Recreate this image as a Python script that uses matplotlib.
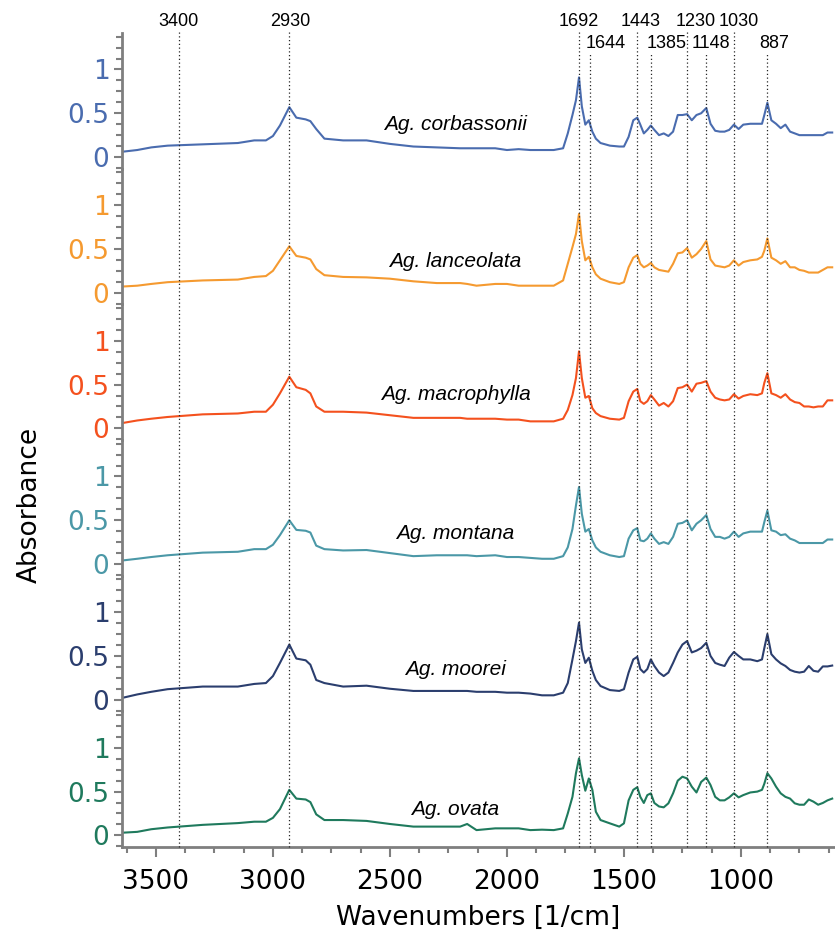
import numpy as np
import matplotlib
matplotlib.use("Agg")
import matplotlib.pyplot as plt
from matplotlib.ticker import MultipleLocator

# wavenumber grid (1/cm), read points off the spectra
wn = [3645, 3580, 3520, 3450, 3300, 3150, 3080, 3030, 3000, 2970, 2930, 2900, 2860, 2840,
      2815, 2780, 2700, 2600, 2500, 2400, 2300, 2200, 2170, 2130, 2050, 2000, 1950, 1900,
      1850, 1800, 1760, 1740, 1720, 1705, 1692, 1680, 1665, 1650, 1635, 1620, 1600, 1560,
      1520, 1500, 1480, 1460, 1443, 1430, 1415, 1400, 1385, 1370, 1350, 1330, 1310, 1290,
      1270, 1250, 1230, 1210, 1190, 1170, 1148, 1130, 1110, 1090, 1070, 1050, 1030, 1010,
      990, 960, 930, 910, 900, 887, 870, 850, 830, 810, 790, 770, 750, 730, 710, 690,
      670, 650, 630, 610]

corbassonii = [0.06, 0.08, 0.11, 0.13, 0.145, 0.16, 0.19, 0.19, 0.24, 0.36, 0.57, 0.45, 0.43, 0.41,
               0.32, 0.21, 0.19, 0.19, 0.15, 0.12, 0.11, 0.10, 0.10, 0.10, 0.10, 0.08, 0.09, 0.08,
               0.08, 0.08, 0.10, 0.27, 0.48, 0.65, 0.91, 0.58, 0.37, 0.42, 0.29, 0.21, 0.16, 0.13,
               0.12, 0.12, 0.23, 0.42, 0.45, 0.37, 0.27, 0.31, 0.36, 0.31, 0.25, 0.27, 0.24, 0.29,
               0.48, 0.48, 0.49, 0.42, 0.48, 0.50, 0.56, 0.38, 0.30, 0.29, 0.29, 0.31, 0.37, 0.32,
               0.37, 0.38, 0.38, 0.38, 0.48, 0.62, 0.42, 0.38, 0.33, 0.37, 0.29, 0.27, 0.25, 0.25,
               0.25, 0.25, 0.25, 0.25, 0.28, 0.28]
lanceolata = [0.07, 0.08, 0.10, 0.12, 0.14, 0.15, 0.18, 0.19, 0.25, 0.37, 0.53, 0.42, 0.40, 0.38,
              0.27, 0.20, 0.18, 0.175, 0.16, 0.13, 0.11, 0.11, 0.10, 0.08, 0.10, 0.10, 0.08, 0.08,
              0.08, 0.08, 0.14, 0.33, 0.52, 0.67, 0.90, 0.59, 0.37, 0.41, 0.29, 0.21, 0.16, 0.12,
              0.10, 0.12, 0.29, 0.40, 0.43, 0.33, 0.29, 0.31, 0.34, 0.29, 0.26, 0.25, 0.24, 0.33,
              0.45, 0.46, 0.51, 0.40, 0.44, 0.50, 0.59, 0.38, 0.31, 0.30, 0.29, 0.31, 0.37, 0.31,
              0.35, 0.37, 0.38, 0.41, 0.48, 0.62, 0.40, 0.37, 0.33, 0.36, 0.29, 0.29, 0.26, 0.25,
              0.23, 0.23, 0.23, 0.26, 0.29, 0.29]
macrophylla = [0.06, 0.09, 0.11, 0.13, 0.16, 0.17, 0.19, 0.19, 0.27, 0.40, 0.59, 0.47, 0.44, 0.40,
               0.25, 0.19, 0.19, 0.18, 0.15, 0.12, 0.12, 0.12, 0.11, 0.11, 0.11, 0.10, 0.10, 0.08,
               0.08, 0.08, 0.11, 0.21, 0.38, 0.575, 0.88, 0.575, 0.35, 0.37, 0.23, 0.175, 0.14, 0.11,
               0.10, 0.12, 0.31, 0.42, 0.45, 0.31, 0.28, 0.31, 0.38, 0.33, 0.26, 0.29, 0.25, 0.31,
               0.46, 0.47, 0.50, 0.42, 0.51, 0.52, 0.54, 0.42, 0.35, 0.33, 0.32, 0.33, 0.39, 0.34,
               0.37, 0.39, 0.38, 0.40, 0.52, 0.63, 0.40, 0.38, 0.35, 0.39, 0.33, 0.30, 0.29, 0.25,
               0.25, 0.24, 0.25, 0.25, 0.32, 0.32]
montana = [0.04, 0.06, 0.08, 0.10, 0.13, 0.14, 0.17, 0.17, 0.22, 0.33, 0.50, 0.39, 0.38, 0.36,
           0.21, 0.17, 0.155, 0.16, 0.125, 0.09, 0.10, 0.10, 0.10, 0.09, 0.10, 0.08, 0.08, 0.07,
           0.06, 0.06, 0.09, 0.19, 0.40, 0.67, 0.88, 0.575, 0.37, 0.40, 0.27, 0.19, 0.14, 0.10,
           0.08, 0.09, 0.29, 0.385, 0.41, 0.27, 0.26, 0.29, 0.35, 0.29, 0.23, 0.25, 0.23, 0.31,
           0.46, 0.47, 0.50, 0.385, 0.46, 0.50, 0.56, 0.40, 0.31, 0.31, 0.29, 0.31, 0.37, 0.31,
           0.35, 0.37, 0.37, 0.37, 0.48, 0.61, 0.385, 0.37, 0.33, 0.34, 0.29, 0.27, 0.24, 0.24,
           0.24, 0.24, 0.24, 0.24, 0.28, 0.28]
moorei = [0.02, 0.06, 0.09, 0.12, 0.15, 0.15, 0.18, 0.19, 0.27, 0.42, 0.63, 0.47, 0.45, 0.40,
          0.225, 0.19, 0.15, 0.16, 0.125, 0.10, 0.10, 0.10, 0.10, 0.09, 0.09, 0.08, 0.08, 0.07,
          0.05, 0.05, 0.08, 0.19, 0.46, 0.67, 0.88, 0.575, 0.42, 0.48, 0.33, 0.225, 0.156, 0.11,
          0.10, 0.12, 0.31, 0.46, 0.49, 0.35, 0.31, 0.35, 0.46, 0.385, 0.31, 0.27, 0.31, 0.42,
          0.54, 0.63, 0.67, 0.54, 0.56, 0.59, 0.65, 0.50, 0.42, 0.40, 0.385, 0.48, 0.545, 0.50,
          0.46, 0.46, 0.44, 0.46, 0.59, 0.75, 0.52, 0.46, 0.415, 0.385, 0.34, 0.32, 0.31, 0.32,
          0.385, 0.33, 0.32, 0.38, 0.38, 0.39]
ovata = [0.03, 0.04, 0.07, 0.09, 0.12, 0.14, 0.156, 0.156, 0.20, 0.30, 0.52, 0.42, 0.41, 0.38,
         0.24, 0.175, 0.175, 0.165, 0.13, 0.10, 0.10, 0.10, 0.13, 0.06, 0.08, 0.08, 0.08, 0.06,
         0.065, 0.06, 0.08, 0.25, 0.44, 0.71, 0.88, 0.69, 0.51, 0.65, 0.52, 0.27, 0.175, 0.137,
         0.10, 0.137, 0.40, 0.52, 0.55, 0.44, 0.37, 0.46, 0.48, 0.37, 0.33, 0.32, 0.366, 0.48,
         0.625, 0.67, 0.65, 0.556, 0.49, 0.61, 0.66, 0.575, 0.44, 0.40, 0.40, 0.434, 0.48, 0.434,
         0.46, 0.49, 0.50, 0.52, 0.59, 0.71, 0.65, 0.556, 0.48, 0.44, 0.42, 0.366, 0.35, 0.35,
         0.41, 0.385, 0.35, 0.37, 0.40, 0.42]

species = ["Ag. corbassonii", "Ag. lanceolata", "Ag. macrophylla",
           "Ag. montana", "Ag. moorei", "Ag. ovata"]
spectra = [corbassonii, lanceolata, macrophylla, montana, moorei, ovata]
colors = ["#4a6caf", "#f59a30", "#f4511e", "#4b98a7", "#2b3e6e", "#1f7a5d"]
label_y = [0.37, 0.36, 0.39, 0.35, 0.34, 0.29]

peaks = [3400, 2930, 1692, 1644, 1443, 1385, 1230, 1148, 1030, 887]
peak_row = [0, 0, 0, 1, 0, 1, 0, 1, 0, 1]
peak_dx = [-1, 1, 0, 15, 3, 16, 9, 5, 5, 7]   # label nudge in pixels

W, H = 835, 930
fig = plt.figure(figsize=(W / 100, H / 100), dpi=100)
left, right = 122 / W, 1.0
bot, top = (H - 847) / H, (H - 33) / H
ph = (top - bot) / 6
gray = "#7f7f7f"

axes = []
for i in range(6):
    ax = fig.add_axes([left, top - (i + 1) * ph, right - left, ph])
    ax.plot(wn, spectra[i], color=colors[i], lw=1.5)
    ax.set_xlim(3645, 598)
    ax.set_ylim(-0.133, 1.417)
    ax.set_yticks([0, 0.5, 1])
    ax.set_yticklabels(["0", "0.5", "1"])
    ax.yaxis.set_minor_locator(MultipleLocator(0.125))
    ax.tick_params(axis="y", which="major", length=6, width=1.5, color=gray,
                   labelsize=19, labelcolor=colors[i], pad=3)
    ax.tick_params(axis="y", which="minor", length=4, width=1.5, color=gray)
    for s in ["top", "right"]:
        ax.spines[s].set_visible(False)
    ax.spines["left"].set_color(gray)
    ax.spines["left"].set_linewidth(2)
    ax.patch.set_alpha(0)
    if i < 5:
        ax.spines["bottom"].set_visible(False)
        ax.tick_params(axis="x", which="both", bottom=False, labelbottom=False)
    else:
        ax.spines["bottom"].set_color(gray)
        ax.spines["bottom"].set_linewidth(2)
        ax.xaxis.set_major_locator(MultipleLocator(500))
        ax.xaxis.set_minor_locator(MultipleLocator(125))
        ax.tick_params(axis="x", which="major", length=7, width=1.5, color=gray,
                       labelsize=19, pad=9)
        ax.tick_params(axis="x", which="minor", length=4, width=1.5, color=gray)
        ax.set_xlabel("Wavenumbers [1/cm]", fontsize=19, labelpad=7)
    ax.text(2220, label_y[i], species[i], fontsize=15, style="italic",
            family="Liberation Sans", ha="center", va="center")
    axes.append(ax)

fig.text(30 / W, 1 - 505 / H, "Absorbance", rotation=90, fontsize=19,
         ha="center", va="center")

# overlay for peak markers, y in pixels from the top
ov = fig.add_axes([left, 0, right - left, 1])
ov.set_xlim(3645, 598)
ov.set_ylim(H, 0)
ov.axis("off")
for p, r, dx in zip(peaks, peak_row, peak_dx):
    ytop = 32 if r == 0 else 52
    ov.plot([p, p], [847, ytop], color="0.15", lw=0.9, ls=(0, (1, 2)))
    ov.annotate(str(p), (p, 21 if r == 0 else 43), xytext=(dx * 0.72, 0),
                textcoords="offset points", ha="center", va="center",
                fontsize=13, family="Liberation Sans")

fig.savefig("out.png", dpi=100)
